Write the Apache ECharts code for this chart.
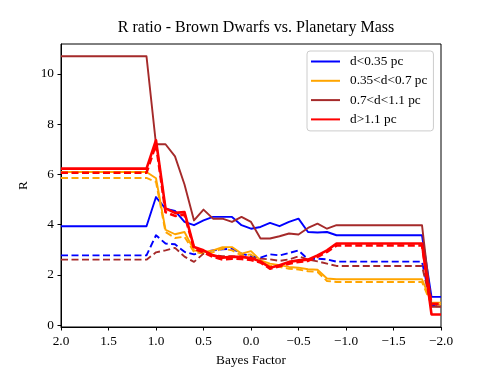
<!DOCTYPE html>
<html><head><meta charset="utf-8">
<script src="https://cdn.jsdelivr.net/npm/echarts@6/dist/echarts.min.js"></script>
<style>html,body{margin:0;padding:0;background:#fff}#c{width:491px;height:368px}</style>
</head><body><div id="c"></div>
<script>
const xs = [2.0,1.9,1.8,1.7,1.6,1.5,1.4,1.3,1.2,1.1,1.0,0.9,0.8,0.7,0.6,0.5,0.4,0.3,0.2,0.1,0.0,-0.1,-0.2,-0.3,-0.4,-0.5,-0.6,-0.7,-0.8,-0.9,-1.0,-1.1,-1.2,-1.3,-1.4,-1.5,-1.6,-1.7,-1.8,-1.9,-2.0];

const labels = ['d<0.35 pc', '0.35<d<0.7 pc', '0.7<d<1.1 pc', 'd>1.1 pc'];

const blueSolid = [3.94,3.94,3.94,3.94,3.94,3.94,3.94,3.94,3.94,3.94,
  5.10,4.64,4.55,4.11,3.98,4.17,4.31,4.31,4.31,3.98,3.84,3.91,4.07,3.94,4.11,4.24,3.71,3.69,3.71,3.58,
  3.58,3.58,3.58,3.58,3.58,3.58,3.58,3.58,3.58,1.13,1.13];
const blueDashed = [2.78,2.78,2.78,2.78,2.78,2.78,2.78,2.78,2.78,2.78,
  3.58,3.25,3.22,2.92,2.82,2.92,2.98,3.02,3.05,2.85,2.75,2.69,2.82,2.78,2.87,2.98,2.62,2.65,2.62,2.53,
  2.53,2.53,2.53,2.53,2.53,2.53,2.53,2.53,2.53,0.80,0.80];
const orangeSolid = [6.10,6.10,6.10,6.10,6.10,6.10,6.10,6.10,6.10,6.10,
  5.85,3.80,3.62,3.71,2.98,2.91,2.98,3.11,3.11,2.85,2.95,2.58,2.45,2.39,2.32,2.29,2.23,2.21,1.86,1.83,
  1.83,1.83,1.83,1.83,1.83,1.83,1.83,1.83,1.83,0.90,0.90];
const orangeDashed = [5.86,5.86,5.86,5.86,5.86,5.86,5.86,5.86,5.86,5.86,
  5.70,3.71,3.47,3.52,2.91,2.85,2.90,3.05,2.98,2.78,2.82,2.50,2.37,2.32,2.25,2.22,2.15,2.12,1.76,1.72,
  1.72,1.72,1.72,1.72,1.72,1.72,1.72,1.72,1.72,0.82,0.82];
const brownSolid = [10.70,10.70,10.70,10.70,10.70,10.70,10.70,10.70,10.70,10.70,
  7.20,7.20,6.72,5.60,4.17,4.60,4.24,4.24,4.11,4.31,4.11,3.45,3.45,3.54,3.65,3.61,3.87,4.04,3.84,3.98,
  3.98,3.98,3.98,3.98,3.98,3.98,3.98,3.98,3.98,0.73,0.73];
const brownDashed = [2.61,2.61,2.61,2.61,2.61,2.61,2.61,2.61,2.61,2.61,
  2.90,2.98,3.08,2.73,2.52,2.85,2.78,2.75,2.75,2.72,2.69,2.65,2.62,2.56,2.62,2.74,2.61,2.54,2.45,2.36,
  2.36,2.36,2.36,2.36,2.36,2.36,2.36,2.36,2.36,0.75,0.75];
const redSolid = [6.23,6.23,6.23,6.23,6.23,6.23,6.23,6.23,6.23,6.23,
  7.36,4.65,4.47,4.50,3.11,2.98,2.78,2.69,2.72,2.72,2.67,2.54,2.29,2.39,2.52,2.58,2.61,2.78,2.98,3.25,
  3.25,3.25,3.25,3.25,3.25,3.25,3.25,3.25,3.25,0.43,0.43];
const redDashed = [6.07,6.07,6.07,6.07,6.07,6.07,6.07,6.07,6.07,6.07,
  7.20,4.50,4.35,4.40,3.05,2.90,2.72,2.62,2.65,2.64,2.60,2.50,2.25,2.35,2.45,2.52,2.56,2.72,2.92,3.17,
  3.17,3.17,3.17,3.17,3.17,3.17,3.17,3.17,3.17,0.85,0.85];

const yTicks = [0, 2, 4, 6, 8, 10];

const FONT = '"Liberation Serif","Times New Roman",serif';
const colors = ['#0000ff', '#ffa500', '#a52a2a', '#ff0000'];
const widths = [1.9, 1.9, 1.9, 2.6];

function pairs(ys) { return xs.map((x, i) => [x, ys[i]]); }
function mk(name, ys, ci, dashed) {
  return {
    name: name, type: 'line', data: pairs(ys), showSymbol: false, symbol: 'none',
    lineStyle: { color: colors[ci], width: widths[ci], type: dashed ? [7, 3.5] : 'solid', cap: 'butt', join: 'round' },
    itemStyle: { color: colors[ci] },
    z: 2, silent: true
  };
}

const chart = echarts.init(document.getElementById('c'), null, { renderer: 'canvas' });
chart.setOption({
  animation: false,
  backgroundColor: '#fff',
  title: {
    text: 'R ratio - Brown Dwarfs vs. Planetary Mass',
    left: 251, top: 15, textAlign: 'center',
    textStyle: { fontFamily: FONT, fontSize: 16, fontWeight: 'normal', color: '#000' }
  },
  grid: { left: 61, right: 50, top: 44, bottom: 41, containLabel: false, outerBoundsMode: 'none',
          show: true, borderColor: '#000', borderWidth: 1, backgroundColor: 'transparent' },
  legend: {
    data: labels, orient: 'vertical', left: 307, top: 51,
    padding: [3, 6, 4, 4], itemGap: 4.3, itemWidth: 29, itemHeight: 2, icon: 'rect',
    backgroundColor: 'rgba(255,255,255,0.85)', borderColor: '#cccccc', borderWidth: 1, borderRadius: 3,
    textStyle: { fontFamily: FONT, fontSize: 13.3, color: '#000', lineHeight: 15, padding: [0, 0, 0, 5] }
  },
  xAxis: {
    type: 'value', min: -2, max: 2, interval: 0.5, inverse: true,
    name: 'Bayes Factor', nameLocation: 'middle', nameGap: 27,
    nameTextStyle: { fontFamily: FONT, fontSize: 13.3, color: '#000' },
    axisLine: { show: true, onZero: false, lineStyle: { color: '#000', width: 1 } },
    axisTick: { show: true, inside: false, length: 3.5, lineStyle: { color: '#000' } },
    axisLabel: {
      fontFamily: FONT, fontSize: 13.3, color: '#000', margin: 8,
      formatter: v => (v < 0 ? '\u2212' : '') + Math.abs(v).toFixed(1)
    },
    splitLine: { show: false }
  },
  yAxis: {
    type: 'value', min: -0.07, max: 11.19,
    name: 'R', nameLocation: 'middle', nameGap: 28, nameRotate: 90,
    nameTextStyle: { fontFamily: FONT, fontSize: 13.3, color: '#000' },
    axisLine: { show: true, onZero: false, lineStyle: { color: '#000', width: 1 } },
    axisTick: { show: true, inside: false, length: 3.5, lineStyle: { color: '#000' }, customValues: yTicks },
    axisLabel: { fontFamily: FONT, fontSize: 13.3, color: '#000', margin: 7, customValues: yTicks },
    splitLine: { show: false }
  },
  series: [
    mk(labels[0], blueSolid, 0, false),
    mk(labels[0] + ' (dashed)', blueDashed, 0, true),
    mk(labels[1], orangeSolid, 1, false),
    mk(labels[1] + ' (dashed)', orangeDashed, 1, true),
    mk(labels[2], brownSolid, 2, false),
    mk(labels[2] + ' (dashed)', brownDashed, 2, true),
    mk(labels[3], redSolid, 3, false),
    mk(labels[3] + ' (dashed)', redDashed, 3, true)
  ]
});
</script>
</body></html>
